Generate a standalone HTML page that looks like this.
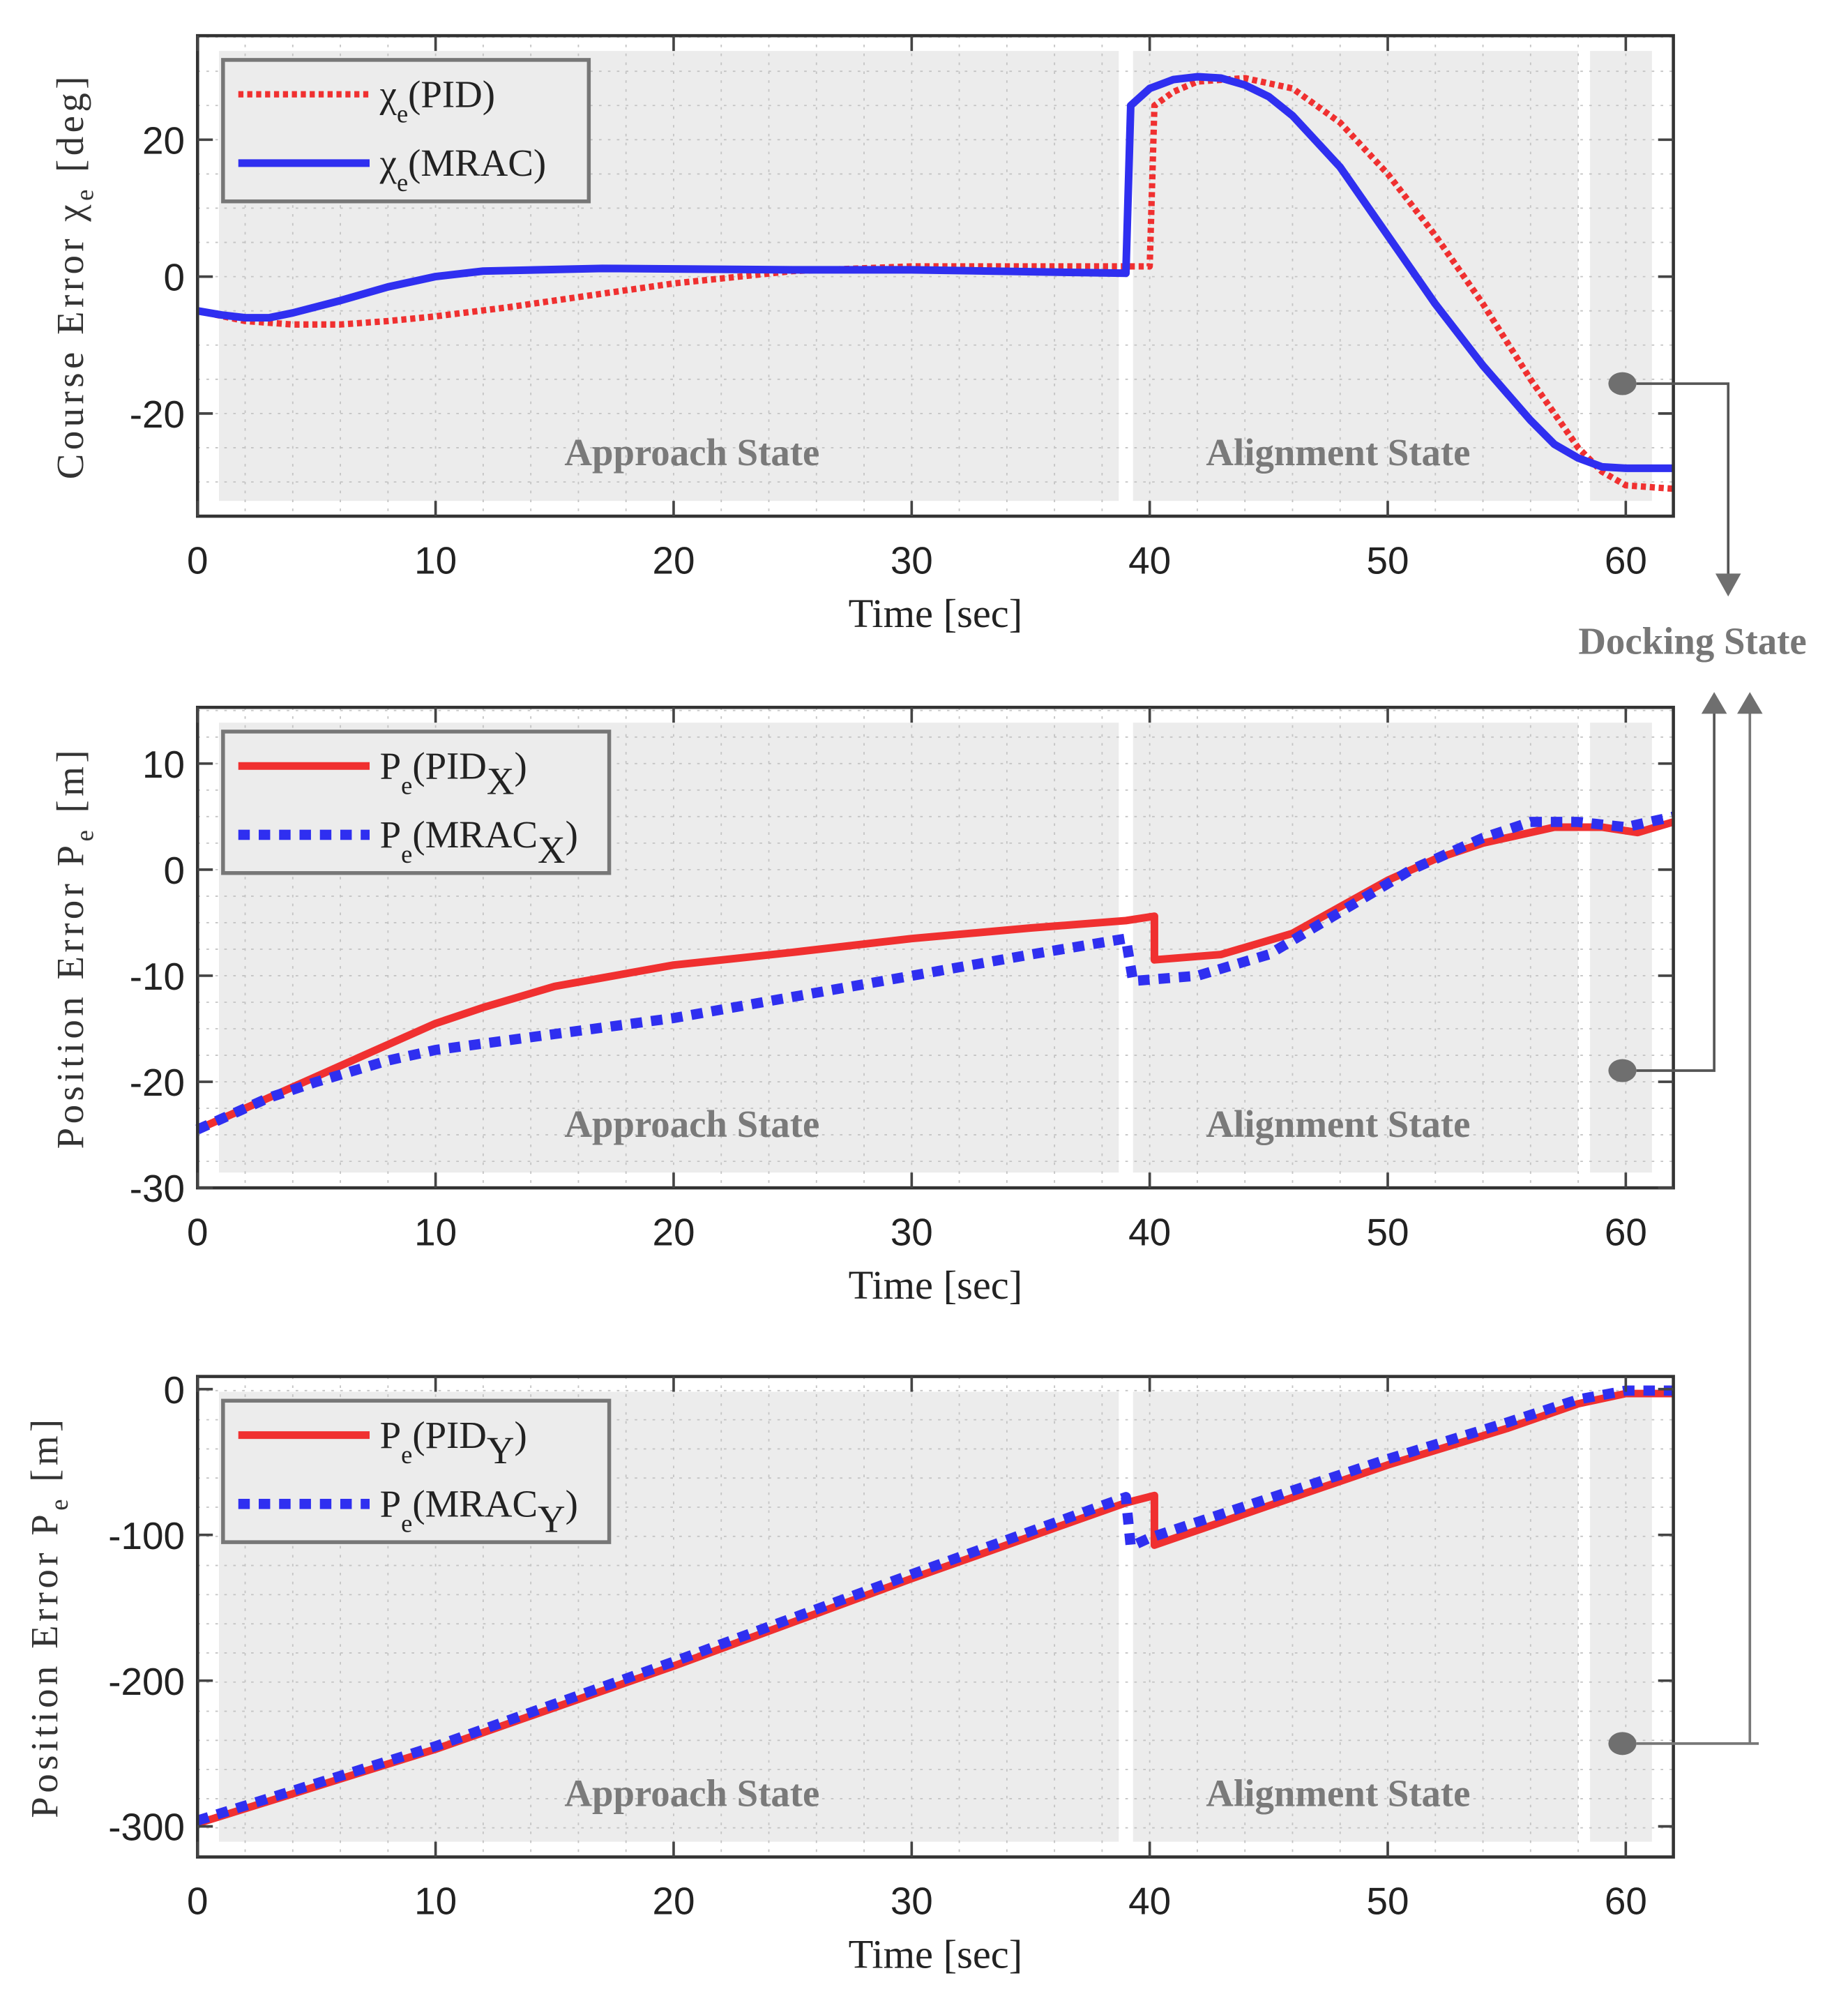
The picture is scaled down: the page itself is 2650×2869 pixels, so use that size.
<!DOCTYPE html>
<html><head><meta charset="utf-8"><style>
html,body{margin:0;padding:0;background:#fff}
svg{display:block}
text{font-family:"Liberation Sans",sans-serif}
.serif{font-family:"Liberation Serif",serif}
</style></head><body>
<svg id="fig" width="2650" height="2869" viewBox="0 0 1450 1570" preserveAspectRatio="none" xmlns="http://www.w3.org/2000/svg"></svg>
<script>
// ---- Chart 1 data: course error
const courseTime = [0,1,2,3,4,6,8,10,12,17,25,30,39,39.2,40,41,42,43,44,45,46,48,50,52,54,56,57,58,59,60,62];
const courseMRAC = [-5,-5.6,-6,-6,-5.3,-3.5,-1.5,0,0.8,1.2,1,1,0.5,25,27.5,28.8,29.2,29,28,26.3,23.5,16,6,-4,-13,-21,-24.5,-26.5,-27.8,-28,-28];
const coursePIDTime = [0,2,4,6,8,10,13,16,20,25,30,39,40,40.2,41,42,44,46,48,50,52,54,56,57,58,59,60,62];
const coursePID = [-5,-6.5,-7,-7,-6.5,-5.8,-4.5,-3,-1,0.8,1.5,1.5,1.5,25,27,28.5,29,27.5,22.5,15,6,-4,-15,-20,-25,-28.5,-30.5,-31];
const courseTicks = [20,0,-20];
// ---- Chart 2 data: position error X
const posXTimePID = [0,5,8,10,12,15,20,25,30,35,39,40.2,40.2,43,46,48,50,52,54,57,59,60.5,62];
const posXPID = [-24.5,-19.5,-16.5,-14.5,-13,-11,-9,-7.8,-6.5,-5.5,-4.8,-4.4,-8.5,-8,-6,-3.5,-1,1,2.5,4,4,3.5,4.5];
const posXTimeMRAC = [0,3,5,8,10,15,20,25,30,35,39,39.3,42,45,48,51,54,56,58,60,62];
const posXMRAC = [-24.5,-21.5,-20,-18,-17,-15.5,-14,-12,-10,-8,-6.5,-10.5,-10,-8,-4,0,3,4.5,4.5,4,5];
const posXTicks = [10,0,-10,-20,-30];
// ---- Chart 3 data: position error Y
const posYTimePID = [0,10,20,30,39,40.2,40.2,45,50,55,58,60,62];
const posYPID = [-298,-247,-190,-130,-78,-73,-107,-80,-52,-27,-10,-3,-3];
const posYTimeMRAC = [0,10,20,30,39,39.2,40,45,50,55,58,60,62];
const posYMRAC = [-296,-245,-187,-127,-74,-108,-102,-75,-48,-23,-7,-1,-1];
const posYTicks = [0,-100,-200,-300];
const xTicks = [0,10,20,30,40,50,60];

const NS="http://www.w3.org/2000/svg";
const svg=document.getElementById('fig');
function el(tag,attrs,parent){const e=document.createElementNS(NS,tag);for(const k in attrs)e.setAttribute(k,attrs[k]);(parent||svg).appendChild(e);return e;}

const L=155,R=1313,XMAX=62;
function sx(t){return L+(t/XMAX)*(R-L);}

function makePlot(cfg){
  const g=el('g',{});
  
  
  const sy=v=>cfg.top+(cfg.ymax-v)/(cfg.ymax-cfg.ymin)*(cfg.bot-cfg.top);
  const regs=[[0.9,38.7],[39.3,58],[58.5,61.1]];
  regs.forEach((r,i)=>{
    const rc=el('rect',{x:sx(r[0]),y:cfg.top+12,width:sx(r[1])-sx(r[0]),height:cfg.bot-cfg.top-24,fill:'#ececec'},g);
    
    
  });
  for(let t=2;t<XMAX;t+=2){el('line',{x1:sx(t),x2:sx(t),y1:cfg.top,y2:cfg.bot,stroke:'#c4c4c4','stroke-width':1,'stroke-dasharray':'2,5'},g);}
  for(let v=cfg.ymin;v<=cfg.ymax;v+=cfg.minor){el('line',{x1:L,x2:R,y1:sy(v),y2:sy(v),stroke:'#c4c4c4','stroke-width':1,'stroke-dasharray':'2,5'},g);}
  [['Approach State',543],['Alignment State',1050]].forEach(s=>{
    const tx=el('text',{x:s[1],y:cfg.bot-40,'text-anchor':'middle','font-size':30,'font-weight':'bold',fill:'#7a7a7a',class:'serif'},g);
    tx.textContent=s[0];
    
    
  });
  cfg.series.forEach(s=>{
    const d=s.t.map((t,i)=>(i?'L':'M')+sx(t).toFixed(1)+','+sy(s.v[i]).toFixed(1)).join(' ');
    const p=el('path',{d:d,fill:'none',stroke:s.color,'stroke-width':s.w,'stroke-dasharray':s.dash||'none','stroke-linejoin':'round'},g);
    
    
  });
  el('rect',{x:L,y:cfg.top,width:R-L,height:cfg.bot-cfg.top,fill:'none',stroke:'#333','stroke-width':2.5},g);
  xTicks.forEach(t=>{
    el('line',{x1:sx(t),x2:sx(t),y1:cfg.bot,y2:cfg.bot-12,stroke:'#444','stroke-width':2},g);
    el('line',{x1:sx(t),x2:sx(t),y1:cfg.top,y2:cfg.top+12,stroke:'#444','stroke-width':2},g);
    const tx=el('text',{x:sx(t),y:cfg.bot+45,'text-anchor':'middle','font-size':30,fill:'#222'},g);
    tx.textContent=t;
    
    
  });
  cfg.ticks.forEach(v=>{
    el('line',{x1:L,x2:L+12,y1:sy(v),y2:sy(v),stroke:'#444','stroke-width':2},g);
    el('line',{x1:R,x2:R-12,y1:sy(v),y2:sy(v),stroke:'#444','stroke-width':2},g);
    const tx=el('text',{x:L-10,y:sy(v)+11,'text-anchor':'end','font-size':30,fill:'#222'},g);
    tx.textContent=v;
    
    
  });
  const xl=el('text',{x:734,y:cfg.bot+87,'text-anchor':'middle','font-size':32,fill:'#222',class:'serif'},g);
  xl.textContent='Time  [sec]';
  
  
  const yl=el('text',{x:0,y:0,'text-anchor':'middle','font-size':30,fill:'#333',class:'serif','letter-spacing':'3',transform:`translate(${cfg.ylx},${(cfg.top+cfg.bot)/2}) rotate(-90)`},g);
  yl.innerHTML=cfg.ylabel;
  
  
  const lg=el('g',{},g);
  
  
  el('rect',{x:175,y:cfg.top+19,width:cfg.lw,height:111,fill:'#ececec',stroke:'#777','stroke-width':3},lg);
  cfg.series.forEach((s,i)=>{
    const yy=cfg.top+46+i*54;
    el('line',{x1:187,x2:290,y1:yy,y2:yy,stroke:s.color,'stroke-width':s.w,'stroke-dasharray':s.dash||'none'},lg);
    const tx=el('text',{x:298,y:yy+10,'font-size':30,fill:'#222',class:'serif'},lg);
    tx.innerHTML=s.label;
    
    
  });
}

const sub=(a)=>`<tspan dy="12" font-size="20">${a}</tspan><tspan dy="-12">`;
const ysub=(a)=>`<tspan dy="8" font-size="20">${a}</tspan><tspan dy="-8">`;
makePlot({name:'course-error-plot',top:28,bot:405,ymax:35.2,ymin:-35,minor:5,ticks:courseTicks,ylx:65,ylabel:'Course Error  χ'+ysub('e')+'  [deg]</tspan>',lw:287,
  series:[
    {name:'pid-course-line',t:coursePIDTime,v:coursePID,color:'#f03030',w:5,dash:'4,3',label:'χ'+sub('e')+'(PID)</tspan>'},
    {name:'mrac-course-line',t:courseTime,v:courseMRAC,color:'#2f2ff0',w:6,label:'χ'+sub('e')+'(MRAC)</tspan>'}]});
makePlot({name:'position-x-plot',top:555,bot:932,ymax:15.3,ymin:-30,minor:2.5,ticks:posXTicks,ylx:65,ylabel:'Position Error  P'+ysub('e')+'  [m]</tspan>',lw:303,
  series:[
    {name:'pid-x-line',t:posXTimePID,v:posXPID,color:'#f03030',w:6,label:'P'+sub('e')+'(PID</tspan><tspan dy="12">X</tspan><tspan dy="-12">)</tspan>'},
    {name:'mrac-x-line',t:posXTimeMRAC,v:posXMRAC,color:'#2f2ff0',w:8,dash:'9,7',label:'P'+sub('e')+'(MRAC</tspan><tspan dy="12">X</tspan><tspan dy="-12">)</tspan>'}]});
makePlot({name:'position-y-plot',top:1080,bot:1457,ymax:8.7,ymin:-321,minor:20,ticks:posYTicks,ylx:45,ylabel:'Position Error  P'+ysub('e')+'  [m]</tspan>',lw:303,
  series:[
    {name:'pid-y-line',t:posYTimePID,v:posYPID,color:'#f03030',w:6,label:'P'+sub('e')+'(PID</tspan><tspan dy="12">Y</tspan><tspan dy="-12">)</tspan>'},
    {name:'mrac-y-line',t:posYTimeMRAC,v:posYMRAC,color:'#2f2ff0',w:8,dash:'9,7',label:'P'+sub('e')+'(MRAC</tspan><tspan dy="12">Y</tspan><tspan dy="-12">)</tspan>'}]});

const ann=el('g',{});


[[301],[840],[1368]].forEach(p=>el('ellipse',{cx:1273,cy:p[0],rx:11,ry:9,fill:'#6f6f6f'},ann));
el('path',{d:'M1284,301 H1356 V452',fill:'none',stroke:'#555','stroke-width':2},ann);
el('polygon',{points:'1346,450 1366,450 1356,468',fill:'#6f6f6f'},ann);
el('path',{d:'M1284,840 H1345 V558',fill:'none',stroke:'#555','stroke-width':2},ann);
el('polygon',{points:'1335,560 1355,560 1345,543',fill:'#6f6f6f'},ann);
el('path',{d:'M1284,1368 H1380 M1373,1368 V558',fill:'none',stroke:'#777','stroke-width':2},ann);
el('polygon',{points:'1363,560 1383,560 1373,543',fill:'#6f6f6f'},ann);
const dt=el('text',{x:1328,y:513,'text-anchor':'middle','font-size':30,'font-weight':'bold',fill:'#777',class:'serif'},ann);
dt.textContent='Docking State';


</script>
</body></html>
